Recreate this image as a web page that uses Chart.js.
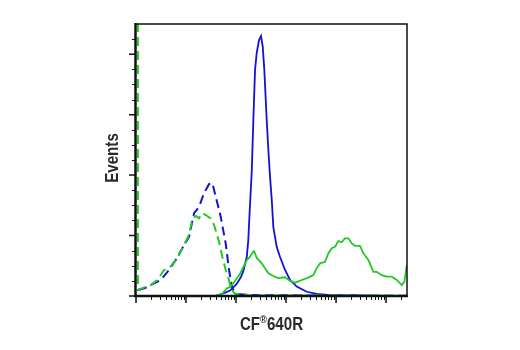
<!DOCTYPE html>
<html>
<head>
<meta charset="utf-8">
<script src="https://cdn.jsdelivr.net/npm/chart.js@4.4.1/dist/chart.umd.min.js"></script>
<style>
  html, body { margin: 0; background: #fff; }
</style>
</head>
<body>
<canvas id="myChart" width="520" height="350"></canvas>
<script>
// Ejes y titulos
const xTitle = ['CF', '®', '640R']
const yTitle = 'Events'
const xMin = 1
const xMax = 262144
const yMin = 0
const yMax = 900
const yMajorTicks = [0, 200, 400, 600, 800]
const yMinorTicks = [50, 100, 150, 250, 300, 350, 450, 500, 550, 650, 700, 750, 850]
const xMajorTicks = [1, 10, 100, 1000, 10000, 100000]
const xMinorTicks = [2, 3, 4, 5, 6, 7, 8, 9,
  20, 30, 40, 50, 60, 70, 80, 90,
  200, 300, 400, 500, 600, 700, 800, 900,
  2000, 3000, 4000, 5000, 6000, 7000, 8000, 9000,
  20000, 30000, 40000, 50000, 60000, 70000, 80000, 90000,
  200000]

// Series (intensidad, eventos)
const greenSolidX = [38, 52.5, 65.2, 75.9, 88.3, 120, 164, 191, 222, 229, 259, 327, 380, 443, 557, 701, 955, 1202, 1514, 2061, 2793, 3516, 4169, 4786, 6026, 7015, 8204, 9550, 11117, 13002, 15136, 17620, 20606, 23988, 30200, 35156, 44259, 55719, 65163, 82035, 103276, 130017, 163682, 206063, 232274, 259418]
const greenSolidY = [0, 7, 25, 30, 42, 73, 119, 130, 147, 149, 126, 108, 92, 75, 66, 59, 62, 50, 44, 53, 61, 69, 94, 108, 113, 141, 158, 163, 182, 178, 191, 191, 174, 166, 166, 141, 119, 80, 80, 69, 64, 64, 53, 36, 47, 103]

const greenDashX = [1.09, 1.09, 1.15, 1.97, 2.67, 3.63, 4.57, 6.70, 9.12, 11.5, 13.4, 15.8, 18.2, 21.2, 24.8, 31.2, 36.3, 45.7, 53.2, 62.2, 72.4, 78.3, 95.5, 132, 191, 1905, 262144]
const greenDashY = [950, 20, 22, 36, 53, 86, 92, 125, 169, 202, 257, 265, 257, 274, 268, 257, 235, 180, 130, 86, 53, 25, 7, 7, 2, 2, 2]

const blueDashX = [1.10, 1.51, 2.29, 3.12, 4.57, 6.22, 8.43, 11.5, 14.5, 18.2, 22.9, 28.8, 33.6, 39.3, 49.4, 62.2, 72.4, 84.3, 105, 191, 1905, 30200]
const blueDashY = [20, 26, 42, 53, 86, 119, 158, 196, 274, 295, 340, 370, 374, 329, 262, 174, 86, 25, 7, 3, 2, 2]

const blueSolidX = [38, 55.7, 75.9, 103, 126, 140, 164, 176, 185, 206, 222, 240, 259, 288, 316, 342, 368, 411, 443, 479, 518, 557, 652, 759, 955, 1202, 1637, 2594, 4111, 7586, 30200, 190546]
const blueSolidY = [0, 9, 18, 40, 63, 83, 129, 185, 261, 410, 582, 748, 804, 847, 860, 825, 748, 582, 483, 394, 318, 228, 162, 129, 86, 53, 31, 14, 7, 3, 2, 0]

const green = '#24c824'
const blue = '#1212d6'

const puntos = (xs, ys) => xs.map((x, i) => ({ x: x, y: ys[i] }))

// Plugin para ejes, marcas y titulos
const ejes = {
  id: 'ejes',
  afterDraw(chart) {
    const ctx = chart.ctx
    const a = chart.chartArea
    const sx = chart.scales.x
    const sy = chart.scales.y
    ctx.save()
    ctx.strokeStyle = '#111'
    // marco fino
    ctx.lineWidth = 1.5
    ctx.beginPath()
    ctx.moveTo(a.left, a.top)
    ctx.lineTo(a.right, a.top)
    ctx.lineTo(a.right, a.bottom)
    ctx.stroke()
    // ejes gruesos
    ctx.lineWidth = 2.5
    ctx.beginPath()
    ctx.moveTo(a.left - 0.5, a.top - 1)
    ctx.lineTo(a.left - 0.5, a.bottom)
    ctx.lineTo(a.right + 1, a.bottom)
    ctx.stroke()
    // marcas
    ctx.lineWidth = 1.5
    ctx.beginPath()
    yMajorTicks.forEach(v => {
      const p = sy.getPixelForValue(v)
      ctx.moveTo(a.left, p); ctx.lineTo(a.left - 7, p)
    })
    xMajorTicks.forEach(v => {
      const p = sx.getPixelForValue(v)
      ctx.moveTo(p, a.bottom); ctx.lineTo(p, a.bottom + 7)
    })
    ctx.stroke()
    ctx.lineWidth = 1
    ctx.beginPath()
    yMinorTicks.forEach(v => {
      const p = Math.round(sy.getPixelForValue(v)) + 0.5
      ctx.moveTo(a.left, p); ctx.lineTo(a.left - 4, p)
    })
    xMinorTicks.forEach(v => {
      const p = Math.round(sx.getPixelForValue(v)) + 0.5
      ctx.moveTo(p, a.bottom); ctx.lineTo(p, a.bottom + 4)
    })
    ctx.stroke()
    // titulos (fuente comprimida a lo ancho)
    const k = 0.84
    ctx.fillStyle = '#2a2a2a'
    const big = 'bold 18px "Liberation Sans", Arial, sans-serif'
    const small = 'bold 11px "Liberation Sans", Arial, sans-serif'
    ctx.textBaseline = 'alphabetic'
    ctx.textAlign = 'left'
    ctx.font = big
    const w0 = ctx.measureText(xTitle[0]).width
    const w2 = ctx.measureText(xTitle[2]).width
    ctx.font = small
    const w1 = ctx.measureText(xTitle[1]).width
    const cx = (a.left + a.right) / 2
    ctx.save()
    ctx.translate(cx, 330)
    ctx.scale(k, 1)
    let x0 = -(w0 + w1 + w2) / 2
    ctx.font = big
    ctx.fillText(xTitle[0], x0, 0)
    ctx.font = small
    ctx.fillText(xTitle[1], x0 + w0, -7)
    ctx.font = big
    ctx.fillText(xTitle[2], x0 + w0 + w1, 0)
    ctx.restore()
    ctx.font = big
    ctx.translate(118, (a.top + a.bottom) / 2 - 2)
    ctx.rotate(-Math.PI / 2)
    ctx.scale(k, 1)
    ctx.textAlign = 'center'
    ctx.fillText(yTitle, 0, 0)
    ctx.restore()
  }
}

const config = {
  type: 'line',
  data: {
    datasets: [
      { data: puntos(greenSolidX, greenSolidY), borderColor: green, borderWidth: 1.8 },
      { data: puntos(greenDashX, greenDashY), borderColor: green, borderWidth: 2, borderDash: [9, 5] },
      { data: puntos(blueDashX, blueDashY), borderColor: blue, borderWidth: 2, borderDash: [9, 5] },
      { data: puntos(blueSolidX, blueSolidY), borderColor: blue, borderWidth: 1.8 }
    ]
  },
  options: {
    responsive: false,
    animation: false,
    devicePixelRatio: 1,
    layout: { padding: { left: 136, right: 113, top: 24, bottom: 54 } },
    elements: { point: { radius: 0 }, line: { tension: 0 } },
    plugins: { legend: { display: false }, tooltip: { enabled: false } },
    scales: {
      x: { type: 'logarithmic', min: xMin, max: xMax, display: false },
      y: { type: 'linear', min: yMin, max: yMax, display: false }
    }
  },
  plugins: [ejes]
}

window.myChart = new Chart(document.getElementById('myChart'), config)
</script>
</body>
</html>
